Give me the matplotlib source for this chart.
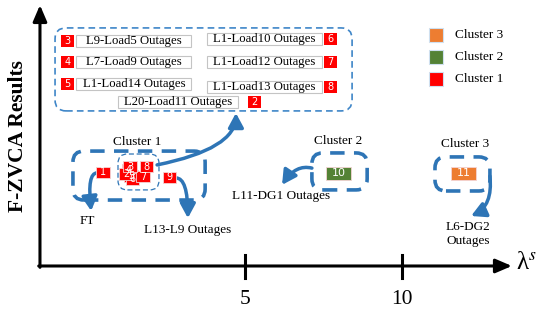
import matplotlib
matplotlib.use('Agg')
import matplotlib.pyplot as plt
from matplotlib.patches import Rectangle, FancyBboxPatch, FancyArrowPatch
from matplotlib.path import Path

plt.rcParams['font.family'] = ['Liberation Serif', 'DejaVu Serif']
plt.rcParams['mathtext.fontset'] = 'stix'

# outage cases: id, description, cluster, position (lambda^s, F-ZVCA)
outage_ids = ['1', '2', '3', '4', '5', '6', '7', '8', '9', '10', '11']
outage_names = ['FT', 'L20-Load11 Outages', 'L9-Load5 Outages', 'L7-Load9 Outages',
                'L1-Load14 Outages', 'L1-Load10 Outages', 'L1-Load12 Outages',
                'L1-Load13 Outages', 'L13-L9 Outages', 'L11-DG1 Outages', 'L6-DG2\nOutages']
outage_cluster = [1, 1, 1, 1, 1, 1, 1, 1, 1, 2, 3]
lambda_s = [0.48, 1.21, 1.34, 1.28, 1.37, 1.42, 1.75, 1.86, 2.60, 7.98, 11.97]
f_zvca = [3.52, 3.46, 3.74, 3.61, 3.38, 3.27, 3.35, 3.74, 3.33, 3.48, 3.48]
draw_order = [3, 4, 5, 1, 6, 2, 7, 0, 8, 9, 10]

cluster_names = ['Cluster 1', 'Cluster 2', 'Cluster 3']
cluster_colors = ['#FF0000', '#548235', '#ED7D31']
x_ticks = [5, 10]

blue = '#2E75B6'

fig = plt.figure(figsize=(5.5, 3.09), dpi=100)
ax = fig.add_axes([0, 0, 1, 1])
ax.set_xlim(-2.803, 14.713)
ax.set_ylim(-1.617, 10.0)
ax.axis('off')

# axes with arrows
x0 = -1.53
ax.annotate('', xy=(x0, 9.81), xytext=(x0, -0.05),
            arrowprops=dict(arrowstyle='-|>,head_length=0.7,head_width=0.3', lw=2.2,
                            color='black', mutation_scale=14, shrinkA=0, shrinkB=0))
ax.annotate('', xy=(13.5, 0), xytext=(x0 - 0.04, 0),
            arrowprops=dict(arrowstyle='-|>,head_length=0.7,head_width=0.3', lw=2.2,
                            color='black', mutation_scale=14, shrinkA=0, shrinkB=0))
for t in x_ticks:
    ax.plot([t, t], [0.42, -0.45], color='black', lw=2.2)
    ax.text(t, -1.25, str(t), ha='center', va='center', fontsize=15.5)
ax.text(13.95, 0.12, 'λ$^{s}$', ha='center', va='center', fontsize=18)
ax.text(-2.23, 4.89, 'F-ZVCA Results', rotation=90, ha='center', va='center',
        fontsize=15.5, fontweight='bold')

# legend
for k, (name, col) in enumerate(zip(cluster_names[::-1], cluster_colors[::-1])):
    yc = 8.68 - 0.82 * k
    ax.add_patch(Rectangle((10.86, yc - 0.26), 0.45, 0.52, fc=col, ec='#cfe0f0', lw=0.8))
    ax.text(11.69, yc, name, ha='left', va='center', fontsize=9.5)

# cluster boxes
def dashed_box(x, y, w, h, lw, dash, r, col=blue):
    ax.add_patch(FancyBboxPatch((x, y), w, h, boxstyle='round,pad=0,rounding_size=%g' % r,
                                fc='none', ec=col, lw=lw, linestyle=(0, dash),
                                mutation_aspect=31.4 / 26.6))

dashed_box(-0.48, 2.48, 4.21, 1.84, 2.6, (4, 2.6), 0.35)
dashed_box(0.955, 2.86, 1.305, 1.35, 0.9, (4, 2.2), 0.3)
dashed_box(7.13, 2.86, 1.76, 1.39, 2.6, (4, 2.6), 0.35)
dashed_box(11.05, 2.82, 1.75, 1.28, 2.6, (4, 2.6), 0.35)
dashed_box(-1.05, 5.83, 9.46, 3.12, 1.2, (4, 2.5), 0.35, col='#3F86C8')

ax.text(1.56, 4.66, 'Cluster 1', ha='center', va='center', fontsize=9.5)
ax.text(7.96, 4.70, 'Cluster 2', ha='center', va='center', fontsize=9.5)
ax.text(12.0, 4.59, 'Cluster 3', ha='center', va='center', fontsize=9.5)

# curved arrows: start, control, end (quadratic bezier)
def curved_arrow(a, c, b):
    p = Path([a, c, b], [Path.MOVETO, Path.CURVE3, Path.CURVE3])
    ax.add_patch(FancyArrowPatch(path=p, arrowstyle='-|>,head_length=0.5,head_width=0.27',
                                 mutation_scale=17, lw=2.5, color=blue))

curved_arrow((2.20, 3.80), (4.71, 4.40), (4.71, 5.75))
curved_arrow((0.29, 3.50), (-0.03, 3.50), (0.10, 2.07))
curved_arrow((2.80, 3.31), (3.18, 3.31), (3.18, 1.80))
curved_arrow((7.13, 3.68), (6.62, 3.83), (6.18, 3.05))
curved_arrow((12.80, 3.38), (12.90, 2.25), (12.20, 1.88))

# outage markers
for i in draw_order:
    c = outage_cluster[i]
    if c == 1:
        w, h, fs = 0.42, 0.42, 7
    else:
        w, h, fs = 0.80, 0.49, 8
    ax.add_patch(Rectangle((lambda_s[i] - w / 2, f_zvca[i] - h / 2), w, h,
                           fc=cluster_colors[c - 1], ec='#f4d4d4', lw=0.6, zorder=3))
    ax.text(lambda_s[i], f_zvca[i], outage_ids[i], ha='center', va='center',
            color='white', fontsize=fs, family='DejaVu Sans', zorder=4)

# outage list inside the big box
list_layout = {
    '3': (1.46, -0.65, 8.46), '4': (1.46, -0.65, 7.67), '5': (1.46, -0.65, 6.84),
    '6': (5.62, 7.72, 8.53), '7': (5.62, 7.72, 7.67), '8': (5.62, 7.72, 6.73),
    '2': (2.87, 5.30, 6.17),
}
for oid, (tx, nx, ty) in list_layout.items():
    i = outage_ids.index(oid)
    bw = 3.82 if oid == '2' else 3.66
    ax.add_patch(Rectangle((tx - bw / 2, ty - 0.23), bw, 0.46, fc='white', ec='#c4c4c4', lw=0.8))
    ax.text(tx, ty, outage_names[i], ha='center', va='center', fontsize=9.2)
    ax.add_patch(Rectangle((nx - 0.21, ty - 0.22), 0.42, 0.44, fc='#FF0000', ec='none'))
    ax.text(nx, ty, oid, ha='center', va='center', color='white', fontsize=7, family='DejaVu Sans')

ax.text(-0.03, 1.69, outage_names[0], ha='center', va='center', fontsize=9.5)
ax.text(3.18, 1.35, outage_names[8], ha='center', va='center', fontsize=9.5)
ax.text(6.15, 2.63, outage_names[9], ha='center', va='center', fontsize=9.5)
ax.text(12.1, 1.2, outage_names[10], ha='center', va='center', fontsize=9.5, linespacing=1.3)

fig.savefig('out.png', dpi=100)
